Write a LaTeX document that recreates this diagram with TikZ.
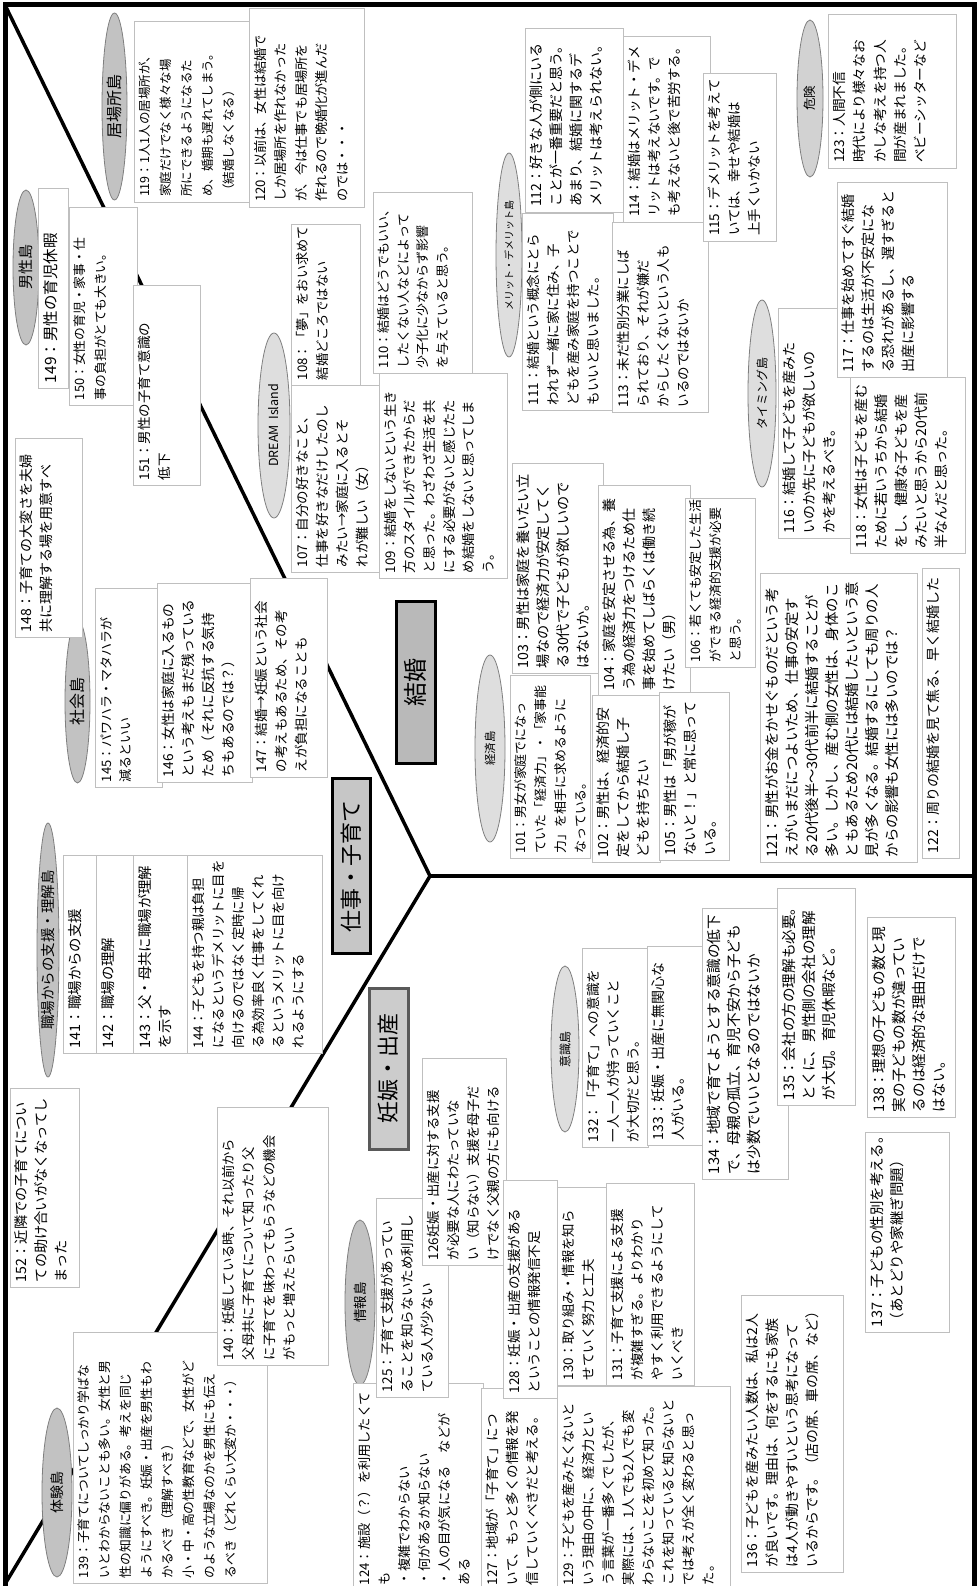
\documentclass[tikz,border=0pt]{standalone}
\usepackage{fontspec}
\setmainfont{Noto Sans CJK JP}
\usetikzlibrary{shapes.geometric}
\definecolor{boxline}{HTML}{BFBFBF}
\definecolor{isledark}{HTML}{C2C2C2}
\definecolor{islelight}{HTML}{DEDEDE}
\definecolor{islemid}{HTML}{D2D2D2}
\definecolor{isleline}{HTML}{7F7F7F}
\tikzset{
 tbox/.style={draw=boxline, fill=white, line width=0.9pt, rotate=90, anchor=north east, inner xsep=5pt, inner ysep=5pt, outer sep=0pt},
 island/.style={ellipse, draw=isleline, line width=0.8pt, rotate=90, inner sep=0pt, outer sep=0pt},
 theme/.style={rectangle, line width=3pt, rotate=90, inner sep=0pt, outer sep=0pt},
 spine/.style={line width=3.5pt, black},
 frame/.style={line width=5pt, black},
}
% name, left, top, right, bottom, font size, baselineskip, text
\newcommand\tb[8]{\node[tbox, minimum width={#5-#3}, minimum height={#4-#2}] (#1) at (#2,-#3) {\parbox[t][\dimexpr#4pt-#2pt-10pt\relax][t]{\dimexpr#5pt-#3pt-10pt\relax}{\fontsize{#6}{#7}\selectfont #8}};}
% name, left, top, right, bottom, font size, fill, text
\newcommand\isle[8]{\node[island, fill=#7, minimum width={#5-#3}, minimum height={#4-#2}] (#1) at ({(#2+#4)/2},{-(#3+#5)/2}) {\fontsize{#6}{#6}\selectfont #8};}
\begin{document}
\begin{tikzpicture}[x=1pt,y=1pt]
\useasboundingbox (0,0) rectangle (978,-1586);
% frame and spines
\coordinate (tl) at (5,-5);
\coordinate (tr) at (974,-5);
\coordinate (blo) at (5,-1600);
\coordinate (bro) at (974,-1600);
\coordinate (hub) at (430,-876);
\coordinate (bl) at (5,-1584);
\coordinate (re) at (974,-876);
\draw[frame] (blo) -- (tl) -- (tr) -- (bro);
\draw[spine] (tl) -- (hub) -- (bl);
\draw[spine] (hub) -- (re);
% islands
\isle{iIbasho}{102}{13}{127}{200}{16}{isledark}{居場所島}
\isle{iDansei}{13}{190}{39}{345}{15}{isledark}{男性島}
\isle{iDream}{258}{333}{290}{518}{12.5}{islelight}{DREAM\ \ Island}
\isle{iMerit}{496}{153}{522}{357}{10}{islelight}{メリット・デメリット島}
\isle{iKiken}{797}{20}{823}{177}{12.5}{islemid}{危険}
\isle{iTiming}{748}{300}{776}{487}{12}{islelight}{タイミング島}
\isle{iKeizai}{475}{655}{505}{842}{11.5}{islelight}{経済島}
\isle{iShakai}{65}{620}{90}{783}{16}{isledark}{社会島}
\isle{iShokuba}{37}{823}{59}{1077}{14.5}{isledark}{職場からの支援・理解島}
\isle{iIshiki}{551}{966}{579}{1132}{12}{islelight}{意識島}
\isle{iJoho}{345}{1220}{375}{1385}{13.5}{isledark}{情報島}
\isle{iTaiken}{42}{1408}{72}{1577}{14}{isledark}{体験島}
% text boxes
\tb{b119}{134}{21}{255}{202}{12.5}{21}{119：1人1人の居場所が、\\家庭だけでなく様々な場\\所にできるようになるた\\め、婚期も遅れてしまう。\\（結婚しなくなる）}
\tb{b120}{249}{8}{364}{207}{13.2}{20.5}{120：以前は、女性は結婚で\\しか居場所を作れなかった\\が、今は仕事でも居場所を\\作れるので晩婚化が進んだ\\のでは・・・}
\tb{b149}{38}{188}{68}{388}{15.5}{18}{149：男性の育児休暇}
\tb{b150}{69}{207}{137}{405}{12.8}{20.5}{150：女性の育児・家事・仕\\事の負担がとても大きい。}
\tb{b151}{133}{285}{200}{485}{13.5}{20.5}{151：男性の子育て意識の\\低下}
\tb{b108}{291}{224}{360}{385}{13.2}{20.5}{108：「夢」をおい求めて\\結婚どころではない}
\tb{b107}{291}{385}{380}{572}{13.5}{20}{107：自分の好きなこと、\\仕事を好きなだけしたのし\\みたい→家庭に入るとそ\\れが難しい（女）}
\tb{b110}{373}{192}{472}{373}{13}{19.5}{110：結婚はどうでもいい、\\したくない人などによって\\少子化に少なからず影響\\を与えていると思う。}
\tb{b109}{379}{373}{507}{578}{13.3}{19.7}{109：結婚をしないという生き\\方のスタイルができたからだ\\と思った。わざわざ生活を共\\にする必要がないと感じたた\\め結婚をしないと思ってしま\\う。}
\tb{b112}{525}{28}{623}{212}{14}{20}{112：好きな人が側にいる\\ことが一番重要だと思う。\\あまり、結婚に関するデ\\メリットは考えられない。}
\tb{b111}{522}{213}{613}{410}{13.5}{20}{111：結婚という概念にとら\\われず一緒に家に住み、子\\どもを産み家庭を持つことで\\もいいと思いました。}
\tb{b114}{623}{36}{710}{222}{13.5}{20}{114：結婚はメリット・デメ\\リットは考えないです。で\\も考えないと後で苦労する。}
\tb{b113}{612}{222}{708}{412}{13.5}{20}{113：未だ性別分業にしば\\られており、それが嫌だ\\からしたくないという人も\\いるのではないか}
\tb{b115}{703}{73}{776}{241}{13.5}{20}{115：デメリットを考えて\\いては、幸せや結婚は\\上手くいかない}
\tb{b123}{828}{14}{956}{168}{13.7}{20.3}{123：人間不信\\時代により様々なお\\かしな考えを持つ人\\間が産まれました。\\ベビーシッターなど}
\tb{b116}{778}{308}{850}{538}{14}{20}{116：結婚して子どもを産みた\\いのか先に子どもが欲しいの\\かを考えるべき。}
\tb{b118}{850}{377}{965}{553}{14}{20}{118：女性は子どもを産む\\ために若いうちから結婚\\をし、健康な子どもを産\\みたいと思うから20代前\\半なんだと思った。}
\tb{b117}{837}{182}{947}{377}{14}{20}{117：仕事を始めてすぐ結婚\\するのは生活が不安定にな\\る恐れがあるし、遅すぎると\\出産に影響する}
\tb{b103}{512}{463}{603}{673}{14.2}{20}{103：男性は家庭を養いたい立\\場なので経済力が安定してく\\る30代で子どもが欲しいので\\はないか。}
\tb{b104}{598}{485}{690}{695}{14}{20}{104：家庭を安定させる為、養\\う為の経済力をつけるため仕\\事を始めてしばらくは働き続\\けたい（男）}
\tb{b106}{685}{498}{755}{667}{12.9}{20}{106：若くても安定した生活\\ができる経済的支援が必要\\と思う。}
\tb{b101}{510}{675}{590}{858}{12.9}{20}{101：男女が家庭でになっ\\ていた「経済力」・「家事能\\力」を相手に求めるように\\なっている。}
\tb{b102}{592}{695}{660}{862}{14}{20}{102：男性は、経済的安\\定をしてから結婚し子\\どもを持ちたい}
\tb{b105}{659}{692}{729}{860}{14}{20}{105：男性は「男が稼が\\ないと！」と常に思って\\いる。}
\tb{b121}{760}{573}{917}{862}{14.4}{20}{121：男性がお金をかせぐものだという考\\えがいまだにつよいため、仕事の安定す\\る20代後半～30代前半に結婚することが\\多い。しかし、産む側の女性は、身体のこ\\ともあるため20代には結婚したいという意\\見が多くなる。結婚するにしても周りの人\\からの影響も女性には多いのでは？}
\tb{b122}{922}{568}{959}{858}{14}{20}{122：周りの結婚を見て焦る、早く結婚した}
\tb{b148}{15}{438}{82}{637}{14}{20}{148：子育ての大変さを夫婦\\共に理解する場を用意すべ}
\tb{b145}{95}{588}{162}{787}{13}{20}{145：パワハラ・マタハラが\\減るといい}
\tb{b146}{157}{583}{252}{782}{13.7}{20}{146：女性は家庭に入るもの\\という考えもまだ残っている\\ため（それに反抗する気持\\ちもあるのでは？）}
\tb{b147}{250}{578}{327}{777}{13.5}{20}{147：結婚→妊娠という社会\\の考えもあるため、その考\\えが負担になることも}
\tb{b141}{63}{855}{96}{1053}{14.4}{20}{141：職場からの支援}
\tb{b142}{96}{855}{133}{1053}{14.4}{20}{142：職場の理解}
\tb{b143}{133}{855}{187}{1053}{14.4}{20}{143：父・母共に職場が理解\\を示す}
\tb{b144}{187}{855}{322}{1053}{13.4}{20}{144：子どもを持つ親は負担\\になるというデメリットに目を\\向けるのではなく定時に帰\\る為効率良く仕事をしてくれ\\るというメリットに目を向け\\れるようにする}
\tb{b152}{10}{1088}{79}{1287}{14.2}{20}{152：近隣での子育てについ\\ての助け合いがなくなってし\\まった}
\tb{b139}{73}{1332}{267}{1583}{12.8}{21}{139：子育てについてしっかり学ばな\\いとわからないことも多い。女性と男\\性の知識に偏りがある。考えを同じ\\ようにすべき。妊娠・出産を男性もわ\\かるべき（理解すべき）\\小・中・高の性教育などで、女性がど\\のような立場なのかを男性にも伝え\\るべき（どれくらい大変か・・・）}
\tb{b140}{217}{1107}{328}{1365}{13.3}{20.5}{140：妊娠している時、それ以前から\\父母共に子育てについて知ったり父\\に子育てを味わってもらうなどの機会\\がもっと増えたらいい}
\tb{b132}{582}{948}{648}{1147}{13.6}{20}{132：「子育て」への意識を\\一人一人が持っていくこと\\が大切だと思う。}
\tb{b133}{647}{946}{702}{1145}{14}{20}{133：妊娠・出産に無関心な\\人がいる。}
\tb{b134}{702}{908}{788}{1179}{14.7}{20}{134：地域で育てようとする意識の低下\\で、母親の孤立、育児不安から子ども\\は少数でいいとなるのではないか}
\tb{b135}{777}{888}{855}{1105}{14.6}{20}{135：会社の方の理解も必要。\\とくに、男性側の会社の理解\\が大切。育児休暇など。}
\tb{b138}{867}{917}{955}{1117}{14.6}{20}{138：理想の子どもの数と現\\実の子どもの数が違ってい\\るのは経済的な理由だけで\\はない。}
\tb{b137}{865}{1132}{949}{1332}{14.5}{20}{137：子どもの性別を考える。\\（あとどりや家継ぎ問題）}
\tb{b124}{353}{1383}{483}{1590}{13.2}{20}{124：施設（？）を利用したくて\\も\\・複雑でわからない\\・何があるか知らない\\・人の目が気になる　などが\\ある}
\tb{b125}{376}{1198}{448}{1397}{13.6}{20}{125：子育て支援があってい\\ることを知らないため利用し\\ている人が少ない}
\tb{b126}{422}{1058}{506}{1265}{13.4}{20}{126妊娠・出産に対する支援\\が必要な人にわたっていな\\い（知らない）支援を母子だ\\けでなく父親の方にも向ける}
\tb{b127}{481}{1388}{557}{1590}{13.5}{20}{127：地域が「子育て」につ\\いて、もっと多くの情報を発\\信していくべきだと考える。}
\tb{b128}{503}{1180}{557}{1398}{13.5}{20}{128：妊娠・出産の支援がある\\ということの情報発信不足}
\tb{b130}{557}{1187}{607}{1385}{13.4}{20}{130：取り組み・情報を知ら\\せていく努力と工夫}
\tb{b131}{606}{1183}{694}{1385}{13.5}{20}{131：子育て支援による支援\\が複雑すぎる。よりわかり\\やすく利用できるようにして\\いくべき}
\tb{b129}{557}{1386}{730}{1590}{13.3}{20}{129：子どもを産みたくないと\\いう理由の中に、経済力とい\\う言葉が一番多くでしたが、\\実際には、1人でも2人でも変\\わらないことを初めて知った。\\これを知っていると知らないと\\では考えが全く変わると思っ\\た。}
\tb{b136}{741}{1295}{843}{1572}{13.9}{20}{136：子どもを産みたい人数は、私は2人\\が良いです。理由は、何をするにも家族\\は4人が動きやすいという思考になって\\いるからです。（店の席、車の席、など）}
% theme labels
\node[theme, fill=gray!45, draw=black, minimum width=175, minimum height=38] (tShigoto) at (351,-866) {\fontsize{22}{22}\selectfont 仕事・子育て};
\node[theme, fill=gray!55, draw=black, minimum width=162, minimum height=39] (tKekkon) at (415.5,-682) {\fontsize{24}{24}\selectfont 結婚};
\node[theme, fill=gray!40, draw=black!65, minimum width=161, minimum height=39] (tNinshin) at (388.5,-1068.5) {\fontsize{22}{22}\selectfont 妊娠・出産};
\end{tikzpicture}
\end{document}
